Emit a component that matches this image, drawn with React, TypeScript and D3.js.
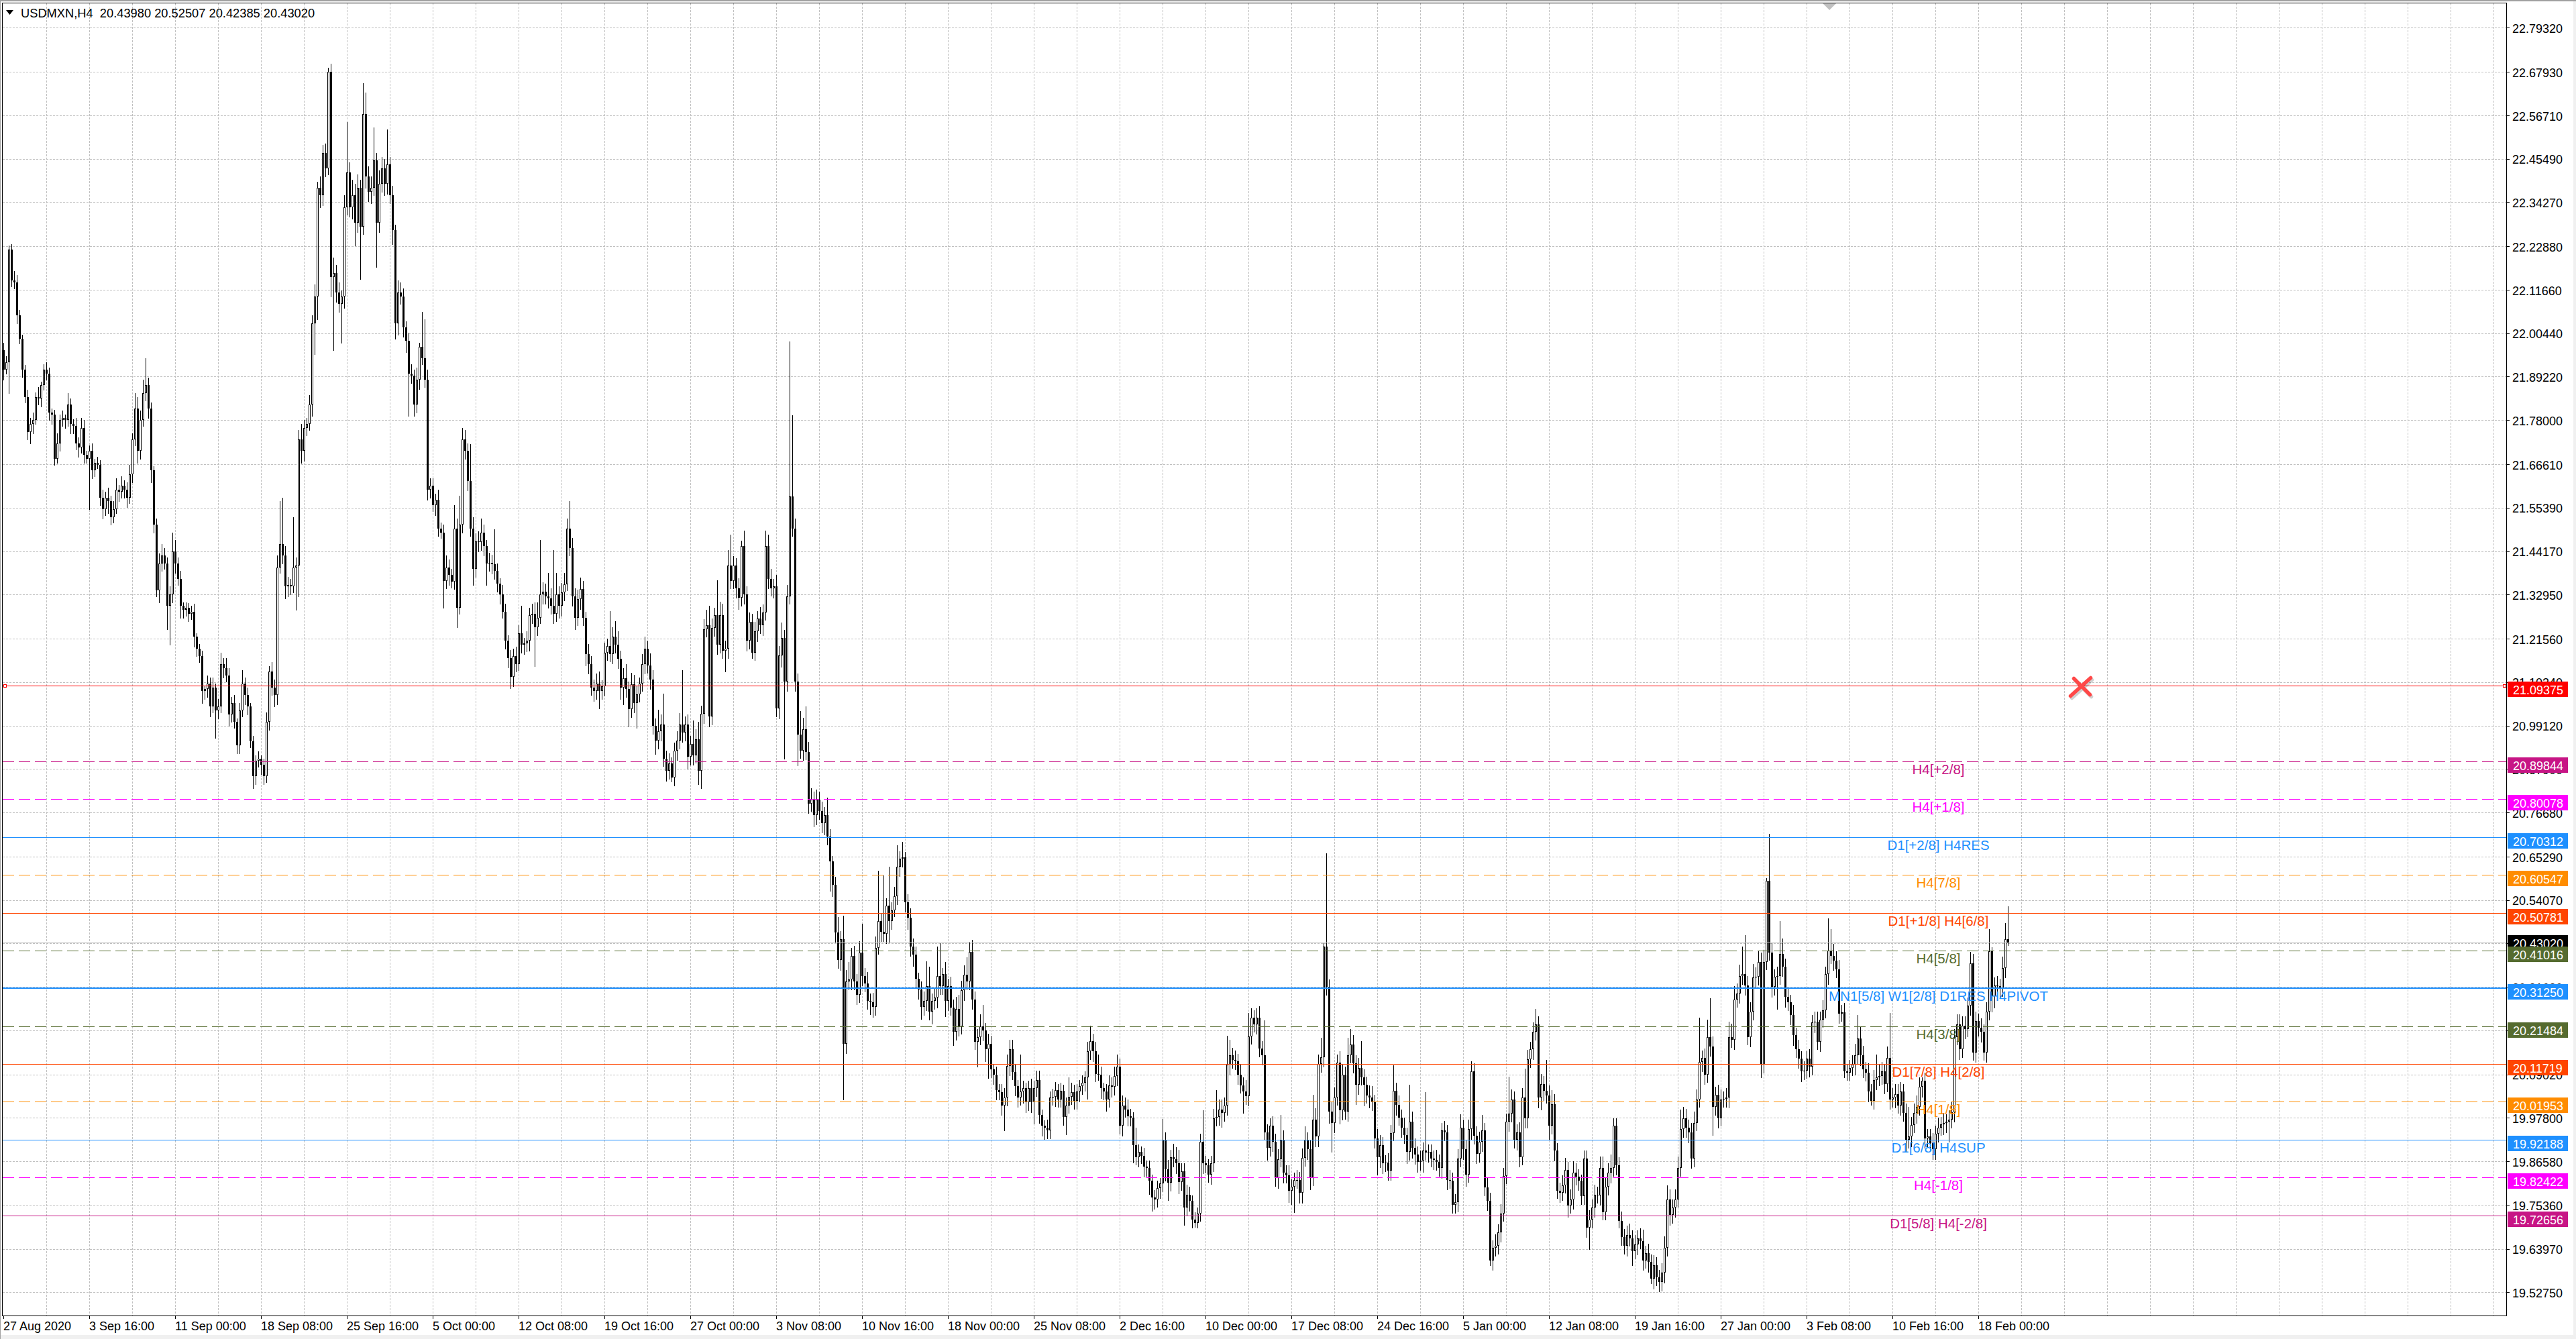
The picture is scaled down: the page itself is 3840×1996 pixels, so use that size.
import * as d3 from "d3";

// ---- data ----
const SYMBOL = "USDMXN,H4";
const LAST_OHLC = [20.4398, 20.52507, 20.42385, 20.4302];
const FIRST_OPEN = 21.96;

// closes, one row per trading day (H4 bars)
const CLOSE_AUG = [
  21.91, 21.93, 22.22, 22.14,
  22.135, 22.05, 21.99, 21.91, 21.84, 21.75,
  21.77, 21.78, 21.84, 21.835, 21.87, 21.91,
];
const CLOSE_SEP = [
  21.9, 21.8, 21.795, 21.68, 21.72, 21.78,
  21.785, 21.78, 21.82, 21.77, 21.765, 21.72,
  21.71, 21.76, 21.69, 21.68, 21.7, 21.65,
  21.67, 21.665, 21.58, 21.55, 21.58, 21.57,
  21.53, 21.55, 21.6, 21.595, 21.61, 21.6,
  21.58, 21.64, 21.73, 21.81, 21.7, 21.78,
  21.85, 21.87, 21.81, 21.65, 21.51, 21.34,
  21.41, 21.43, 21.41, 21.3, 21.33, 21.44,
  21.41, 21.37, 21.3, 21.29, 21.295, 21.28,
  21.285, 21.22, 21.19, 21.17, 21.08, 21.085,
  21.1, 21.04, 21.09, 21.03, 21.04, 21.15,
  21.14, 21.12, 21.02, 21.05, 21.0, 20.94,
  21.03, 21.1, 21.07, 21.04, 20.95, 20.86,
  20.9, 20.905, 20.89, 20.86, 21.0, 21.13,
  21.09, 21.07, 21.4, 21.46, 21.43, 21.35,
  21.355, 21.35, 21.4, 21.405, 21.73, 21.7,
  21.76, 21.77, 21.82, 22.03, 22.1, 22.38,
  22.36, 22.47, 22.43, 22.68, 22.15, 22.16,
  22.11, 22.08, 22.1, 22.33, 22.42, 22.33,
  22.36, 22.29, 22.38, 22.28, 22.57, 22.41,
  22.37, 22.38, 22.45, 22.29, 22.39, 22.43,
  22.39, 22.44, 22.36, 22.27, 22.03, 22.11,
];
const CLOSE_OCT = [
  22.1, 22.02, 21.985, 21.9, 21.895, 21.82,
  21.885, 21.97, 21.94, 21.885, 21.6, 21.61,
  21.56, 21.575, 21.5, 21.49, 21.365, 21.4,
  21.38, 21.363, 21.5, 21.295, 21.51, 21.73,
  21.7, 21.623, 21.5, 21.395, 21.467, 21.465,
  21.49, 21.455, 21.41, 21.412, 21.408, 21.39,
  21.357, 21.33, 21.285, 21.21, 21.166, 21.117,
  21.17, 21.15, 21.23, 21.2, 21.203, 21.21,
  21.276, 21.28, 21.245, 21.27, 21.33, 21.337,
  21.325, 21.32, 21.3, 21.28, 21.33, 21.3,
  21.335, 21.356, 21.5, 21.45, 21.325, 21.27,
  21.317, 21.344, 21.27, 21.176, 21.15, 21.09,
  21.08, 21.1, 21.08, 21.093, 21.18, 21.196,
  21.176, 21.22, 21.2, 21.164, 21.09, 21.114,
  21.085, 21.033, 21.097, 21.05, 21.072, 21.1,
  21.15, 21.19, 21.147, 21.11, 20.99, 20.952,
  20.977, 20.994, 20.906, 20.874, 20.894, 20.857,
  20.927, 20.952, 20.994, 20.973, 20.994, 20.91,
  20.944, 20.915, 20.956, 20.874, 21.022, 21.24,
  21.25, 21.014, 21.243, 21.276, 21.2, 21.276,
  21.185, 21.19, 21.404, 21.365, 21.404, 21.346,
  21.321, 21.454, 21.33, 21.21, 21.259, 21.18,
];
const CLOSE_NOV = [
  21.234, 21.267, 21.25, 21.284, 21.454, 21.37,
  21.346, 21.35, 21.035, 21.172, 21.218, 21.105,
  21.325, 21.583, 21.5, 21.105, 20.968, 20.927,
  20.981, 20.923, 20.79, 20.8, 20.76, 20.8,
  20.77, 20.74, 20.76, 20.704, 20.64, 20.58,
  20.457, 20.385, 20.44, 20.17, 20.33, 20.335,
  20.397, 20.33, 20.296, 20.405, 20.345, 20.325,
  20.28, 20.276, 20.264, 20.417, 20.486, 20.459,
  20.454, 20.526, 20.486, 20.514, 20.55, 20.627,
  20.647, 20.65, 20.535, 20.495, 20.421, 20.4,
  20.337, 20.31, 20.264, 20.28, 20.318, 20.252,
  20.28, 20.288, 20.345, 20.318, 20.35, 20.28,
  20.318, 20.263, 20.2, 20.26, 20.215, 20.307,
  20.347, 20.33, 20.407, 20.284, 20.175, 20.187,
  20.215, 20.203, 20.155, 20.17, 20.103, 20.09,
  20.05, 20.045, 20.01, 20.03, 20.112, 20.155,
  20.097, 20.06, 20.031, 20.046, 20.054, 20.018,
  20.054, 20.018, 20.054, 20.075, 19.985, 19.957,
  19.953, 19.945, 20.031, 20.033, 20.05, 20.026,
  20.048, 19.98, 20.01, 20.033, 20.044, 20.022,
  20.046, 20.06, 20.068, 20.083, 20.15, 20.176,
];
const CLOSE_DEC = [
  20.15, 20.092, 20.09, 20.054, 20.046, 20.026,
  20.062, 20.058, 20.086, 20.111, 19.957, 20.01,
  20.0, 19.982, 19.978, 19.907, 19.877, 19.89,
  19.88, 19.852, 19.848, 19.816, 19.772, 19.768,
  19.796, 19.808, 19.921, 19.845, 19.81, 19.876,
  19.872, 19.86, 19.812, 19.84, 19.747, 19.78,
  19.763, 19.715, 19.707, 19.731, 19.917, 19.86,
  19.856, 19.832, 19.86, 19.977, 19.98, 20.0,
  19.99, 20.01, 20.115, 20.139, 20.127, 20.124,
  20.09, 20.062, 20.046, 20.034, 20.189, 20.236,
  20.22, 20.236, 20.157, 20.14, 19.941, 19.9,
  19.957, 19.917, 19.822, 19.872, 19.92, 19.836,
  19.83, 19.79, 19.8, 19.817, 19.818, 19.784,
  19.874, 19.921, 19.897, 19.823, 19.973, 19.93,
  20.117, 20.135, 20.421, 20.316, 19.995, 19.965,
  20.031, 20.121, 19.998, 20.09, 19.995, 20.14,
  20.167, 20.119, 20.064, 20.107, 20.083, 20.064,
  20.036, 20.03, 20.018, 19.925, 19.876, 19.908,
  19.86, 19.862, 19.842, 19.939, 20.048, 20.011,
  19.979, 19.953, 19.933, 19.89, 19.969, 19.9,
  19.884, 19.864, 19.868, 19.894, 19.889, 19.89,
  19.873, 19.87, 19.864, 19.848, 19.945, 19.94,
];
const CLOSE_JAN = [
  19.818, 19.816, 19.753, 19.761, 19.873, 19.953,
  19.897, 19.832, 19.949, 20.099, 19.931, 19.885,
  19.917, 19.945, 19.798, 19.764, 19.61, 19.642,
  19.647, 19.683, 19.731, 19.828, 19.969, 19.989,
  20.026, 19.921, 19.941, 19.877, 20.03, 19.977,
  20.129, 20.155, 20.2, 20.22, 20.03, 20.066,
  20.048, 20.036, 19.957, 20.014, 19.893, 19.79,
  19.785, 19.804, 19.844, 19.752, 19.768, 19.836,
  19.826, 19.816, 19.776, 19.873, 19.695, 19.715,
  19.747, 19.78, 19.778, 19.848, 19.735, 19.8,
  19.836, 19.848, 19.957, 19.856, 19.711, 19.671,
  19.647, 19.675, 19.667, 19.634, 19.651, 19.667,
  19.66, 19.61, 19.628, 19.606, 19.562, 19.598,
  19.566, 19.554, 19.578, 19.642, 19.768, 19.727,
  19.747, 19.768, 19.848, 19.949, 19.977, 19.953,
  19.94, 19.873, 19.965, 20.026, 20.123, 20.132,
  20.09, 20.187, 20.163, 20.006, 20.038, 19.977,
  20.026, 20.027, 20.03, 20.187, 20.18, 20.284,
  20.3, 20.344, 20.35, 20.32, 20.187, 20.252,
  20.34, 20.342, 20.38, 20.115, 20.381, 20.591,
];
const CLOSE_FEB = [
  20.405, 20.316, 20.342, 20.344, 20.401, 20.369,
  20.29, 20.276, 20.244, 20.191, 20.155, 20.131,
  20.098, 20.1, 20.131, 20.11, 20.224, 20.227,
  20.175, 20.232, 20.256, 20.349, 20.41, 20.397,
  20.384, 20.361, 20.248, 20.25, 20.098, 20.095,
  20.107, 20.115, 20.139, 20.183, 20.139, 20.103,
  20.094, 20.046, 20.022, 20.076, 20.082, 20.086,
  20.098, 20.066, 20.132, 20.026, 20.03, 20.04,
  20.01, 20.046, 19.99, 19.921, 19.93, 19.96,
  19.99, 20.006, 20.058, 20.074, 19.925, 19.93,
  19.913, 19.897, 19.937, 19.953, 19.961, 19.965,
  19.968, 19.973, 19.993, 20.187, 20.22, 20.155,
  20.216, 20.208, 20.268, 20.377, 20.147, 20.228,
  20.21, 20.2, 20.147, 20.252, 20.409, 20.292,
  20.32, 20.318, 20.313, 20.365, 20.4398, 20.4302,
];

// upper / lower shadows above/below the body, in thousandths
const UP_AUG = [20, 15, 10, 15, 25, 20, 15, 10, 12, 18, 15, 20, 12, 25, 10, 15];
const DN_AUG = [25, 10, 80, 15, 15, 20, 12, 18, 15, 20, 30, 25, 10, 15, 20, 12];
const UP_SEP = [
  20, 15, 10, 12, 25, 15, 20, 10, 30, 15, 12, 20, 15, 25, 20, 10, 15, 20,
  10, 15, 12, 20, 15, 25, 15, 20, 30, 12, 25, 15, 20, 25, 15, 40, 30, 25,
  35, 70, 20, 15, 10, 15, 25, 30, 20, 15, 20, 50, 30, 15, 20, 10, 15, 12,
  15, 20, 10, 12, 15, 10, 20, 15, 25, 10, 20, 30, 15, 25, 20, 15, 20, 10,
  20, 35, 15, 20, 10, 15, 15, 20, 10, 15, 25, 15, 25, 20, 30, 110, 120, 25,
  20, 15, 130, 20, 25, 40, 20, 15, 25, 20, 30, 15, 30, 20, 25, 10, 20, 40,
  20, 25, 15, 30, 130, 25, 40, 30, 35, 20, 80, 55, 25, 30, 85, 20, 35, 30,
  25, 90, 20, 25, 15, 30,
];
const DN_SEP = [
  15, 20, 25, 15, 10, 20, 15, 20, 15, 25, 20, 15, 25, 15, 20, 10, 130, 20,
  15, 10, 20, 25, 15, 30, 20, 15, 10, 25, 15, 20, 25, 15, 20, 15, 30, 20,
  15, 20, 25, 30, 20, 15, 30, 20, 15, 60, 100, 20, 25, 15, 30, 20, 15, 20,
  15, 25, 20, 15, 30, 20, 20, 25, 15, 70, 20, 15, 25, 15, 30, 20, 15, 20,
  20, 15, 25, 20, 15, 30, 20, 15, 25, 20, 15, 20, 20, 30, 25, 15, 20, 30,
  25, 20, 15, 110, 80, 30, 25, 20, 15, 30, 80, 60, 30, 25, 20, 15, 50, 190,
  25, 20, 100, 30, 20, 25, 30, 60, 25, 135, 20, 30, 25, 30, 20, 115, 25, 20,
  30, 25, 20, 35, 40, 30,
];
const UP_OCT = [
  25, 20, 15, 20, 25, 15, 30, 10, 90, 100, 25, 20, 20, 15, 25, 15, 20, 30,
  20, 15, 60, 25, 75, 30, 25, 20, 95, 30, 20, 25, 35, 20, 15, 25, 20, 90,
  20, 15, 25, 20, 15, 20, 20, 25, 20, 70, 15, 25, 20, 25, 30, 40, 140, 25,
  20, 60, 25, 145, 55, 20, 25, 30, 25, 70, 25, 20, 25, 30, 20, 15, 25, 20,
  20, 25, 30, 15, 25, 20, 90, 25, 40, 35, 20, 25, 35, 20, 30, 25, 20, 15,
  25, 30, 20, 30, 25, 20, 55, 25, 80, 20, 25, 15, 20, 25, 30, 140, 20, 25,
  20, 60, 25, 45, 20, 25, 40, 50, 25, 20, 90, 35, 30, 20, 40, 80, 25, 20,
  25, 15, 40, 20, 25, 20,
];
const DN_OCT = [
  20, 25, 30, 110, 20, 30, 20, 25, 15, 20, 25, 20, 15, 25, 20, 15, 70, 20,
  25, 15, 20, 50, 15, 20, 20, 25, 20, 40, 20, 25, 20, 25, 55, 20, 25, 20,
  20, 25, 15, 20, 25, 30, 25, 20, 15, 20, 25, 20, 25, 20, 100, 20, 15, 25,
  20, 25, 20, 25, 20, 30, 25, 20, 15, 20, 25, 30, 20, 25, 20, 30, 25, 20,
  25, 20, 45, 20, 25, 20, 20, 25, 20, 25, 30, 45, 20, 45, 20, 25, 65, 20,
  20, 25, 20, 25, 20, 35, 20, 25, 20, 25, 20, 10, 20, 25, 20, 25, 20, 30,
  20, 25, 20, 35, 45, 25, 20, 25, 20, 20, 25, 20, 20, 55, 25, 20, 20, 25,
  30, 20, 25, 25, 20, 15,
];
const UP_NOV = [
  25, 20, 30, 20, 40, 30, 25, 20, 30, 25, 40, 20, 30, 400, 210, 25, 20, 60,
  30, 60, 25, 30, 20, 25, 20, 25, 20, 45, 20, 15, 20, 40, 20, 60, 30, 45,
  20, 25, 20, 30, 75, 20, 30, 20, 25, 30, 130, 20, 145, 20, 100, 20, 25, 55,
  20, 40, 15, 20, 25, 20, 20, 15, 20, 25, 65, 50, 20, 25, 75, 85, 15, 30,
  20, 25, 20, 30, 35, 25, 25, 45, 25, 30, 20, 20, 30, 55, 20, 25, 20, 15,
  20, 15, 20, 25, 30, 25, 25, 20, 15, 95, 20, 15, 20, 25, 20, 25, 25, 15,
  15, 20, 15, 20, 20, 15, 20, 15, 20, 50, 25, 20, 20, 15, 20, 15, 25, 40,
];
const DN_NOV = [
  20, 25, 20, 25, 20, 25, 20, 25, 20, 25, 30, 200, 25, 20, 20, 25, 80, 20,
  25, 20, 25, 20, 30, 25, 20, 25, 30, 20, 75, 30, 25, 20, 25, 145, 25, 20,
  25, 20, 25, 20, 25, 20, 20, 30, 25, 20, 15, 25, 20, 25, 55, 20, 15, 20,
  25, 20, 25, 30, 25, 30, 20, 25, 30, 20, 25, 20, 30, 20, 25, 20, 20, 40,
  25, 20, 35, 20, 25, 20, 25, 20, 20, 25, 20, 65, 20, 25, 30, 75, 20, 25,
  25, 20, 25, 65, 20, 25, 20, 25, 25, 20, 30, 25, 20, 25, 55, 20, 20, 25,
  30, 20, 20, 20, 25, 20, 20, 20, 45, 20, 20, 20, 20, 25, 20, 20, 55, 20,
];
const UP_DEC = [
  20, 25, 50, 20, 15, 20, 25, 20, 25, 30, 20, 25, 20, 25, 20, 15, 45, 20,
  15, 20, 15, 20, 15, 20, 20, 15, 55, 20, 25, 20, 35, 30, 35, 20, 20, 25,
  20, 15, 20, 15, 20, 80, 20, 15, 20, 25, 70, 25, 25, 20, 75, 40, 20, 25,
  20, 25, 20, 30, 60, 25, 20, 25, 30, 20, 90, 20, 20, 25, 20, 25, 65, 25,
  20, 25, 20, 20, 25, 20, 25, 35, 20, 25, 65, 30, 25, 50, 10, 240, 20, 25,
  25, 20, 30, 25, 20, 45, 40, 25, 20, 25, 70, 20, 20, 25, 30, 20, 25, 25,
  20, 20, 25, 20, 65, 20, 25, 20, 25, 20, 95, 25, 25, 20, 25, 20, 150, 20,
  20, 20, 25, 20, 20, 25,
];
const DN_DEC = [
  25, 20, 15, 25, 20, 30, 20, 25, 20, 25, 20, 25, 20, 25, 20, 45, 20, 25,
  20, 25, 20, 35, 35, 25, 20, 25, 20, 30, 45, 20, 20, 25, 30, 20, 45, 20,
  25, 20, 10, 12, 20, 25, 20, 20, 25, 20, 20, 20, 35, 20, 25, 25, 20, 20,
  25, 20, 55, 20, 25, 20, 20, 25, 20, 25, 20, 30, 20, 25, 20, 25, 20, 25,
  20, 30, 35, 65, 20, 25, 25, 20, 25, 30, 20, 25, 25, 20, 25, 20, 30, 75,
  25, 20, 35, 25, 20, 25, 20, 25, 50, 25, 20, 55, 20, 25, 20, 25, 45, 25,
  25, 20, 25, 25, 20, 25, 20, 25, 20, 30, 20, 25, 25, 25, 20, 30, 20, 25,
  20, 25, 20, 20, 25, 20,
];
const UP_JAN = [
  20, 25, 20, 20, 25, 35, 20, 25, 25, 25, 20, 25, 25, 40, 20, 25, 20, 20,
  30, 20, 25, 20, 20, 95, 25, 20, 20, 25, 25, 75, 25, 20, 25, 40, 20, 25,
  20, 80, 25, 35, 25, 20, 20, 25, 30, 20, 25, 30, 25, 20, 15, 20, 20, 25,
  20, 25, 20, 30, 30, 25, 25, 35, 20, 20, 20, 25, 20, 25, 30, 20, 25, 20,
  25, 30, 20, 25, 20, 25, 20, 20, 25, 30, 35, 25, 20, 25, 30, 50, 30, 25,
  20, 25, 30, 25, 114, 20, 25, 45, 100, 25, 20, 25, 25, 20, 25, 40, 35, 35,
  25, 30, 70, 100, 25, 25, 35, 25, 30, 25, 30, 6,
];
const DN_JAN = [
  25, 20, 20, 20, 25, 20, 25, 30, 20, 25, 20, 25, 20, 25, 20, 25, 12, 25,
  20, 20, 25, 20, 20, 25, 20, 20, 25, 25, 20, 25, 25, 20, 25, 20, 25, 30,
  25, 20, 35, 20, 25, 20, 25, 20, 20, 30, 20, 25, 20, 25, 20, 20, 24, 56,
  20, 25, 20, 25, 20, 20, 20, 25, 20, 25, 16, 21, 20, 25, 20, 36, 20, 25,
  20, 25, 20, 25, 12, 25, 20, 24, 22, 25, 20, 25, 20, 25, 20, 20, 20, 25,
  25, 25, 20, 20, 20, 25, 25, 20, 25, 73, 20, 25, 20, 20, 20, 25, 20, 25,
  20, 25, 20, 25, 20, 25, 20, 25, 20, 33, 20, 20,
];
const UP_FEB = [
  120, 25, 20, 25, 85, 40, 20, 25, 20, 25, 20, 25, 20, 25, 20, 25, 20, 25,
  25, 20, 25, 20, 84, 56, 30, 25, 25, 20, 25, 20, 20, 25, 30, 60, 30, 25,
  20, 25, 20, 25, 60, 30, 25, 20, 30, 117, 25, 25, 25, 25, 20, 25, 76, 20,
  25, 30, 25, 8, 20, 20, 20, 25, 20, 25, 20, 25, 20, 25, 25, 20, 25, 25,
  25, 25, 20, 30, 25, 25, 20, 25, 20, 25, 57, 10, 20, 25, 20, 30, 42, 85,
];
const DN_FEB = [
  20, 25, 20, 82, 20, 25, 25, 20, 25, 25, 20, 25, 25, 20, 20, 25, 20, 25,
  20, 25, 20, 20, 25, 20, 25, 20, 25, 20, 16, 20, 20, 20, 25, 20, 25, 20,
  20, 25, 11, 20, 25, 20, 20, 25, 20, 25, 20, 25, 20, 25, 20, 30, 20, 25,
  20, 25, 20, 25, 25, 20, 20, 25, 25, 20, 20, 25, 25, 51, 20, 25, 20, 25,
  20, 25, 20, 25, 20, 25, 20, 25, 20, 25, 20, 40, 30, 20, 25, 20, 25, 7,
];

const PRICE_TICKS = [
  22.7932, 22.6793, 22.5671, 22.4549, 22.3427, 22.2288, 22.1166, 22.0044,
  21.8922, 21.78, 21.6661, 21.5539, 21.4417, 21.3295, 21.2156, 21.1034,
  20.9912, 20.879, 20.7668, 20.6529, 20.5407, 20.4285, 20.3163, 20.2041,
  20.0902, 19.978, 19.8658, 19.7536, 19.6397, 19.5275,
];
const TIME_LABELS = [
  "27 Aug 2020", "3 Sep 16:00", "11 Sep 00:00", "18 Sep 08:00", "25 Sep 16:00",
  "5 Oct 00:00", "12 Oct 08:00", "19 Oct 16:00", "27 Oct 00:00", "3 Nov 08:00",
  "10 Nov 16:00", "18 Nov 00:00", "25 Nov 08:00", "2 Dec 16:00", "10 Dec 00:00",
  "17 Dec 08:00", "24 Dec 16:00", "5 Jan 00:00", "12 Jan 08:00", "19 Jan 16:00",
  "27 Jan 00:00", "3 Feb 08:00", "10 Feb 16:00", "18 Feb 00:00",
];

const ALERT_PRICE = 21.09375;
const LEVEL_PRICES = [
  20.89844, 20.80078, 20.70312, 20.60547, 20.50781, 20.41016, 20.3125,
  20.21484, 20.11719, 20.01953, 19.92188, 19.82422, 19.72656,
];
const LEVEL_NAMES = [
  "H4[+2/8]", "H4[+1/8]", "D1[+2/8] H4RES", "H4[7/8]", "D1[+1/8] H4[6/8]",
  "H4[5/8]", "MN1[5/8] W1[2/8] D1RES H4PIVOT", "H4[3/8]", "D1[7/8] H4[2/8]",
  "H4[1/8]", "D1[6/8] H4SUP", "H4[-1/8]", "D1[5/8] H4[-2/8]",
];

// ---- styles ----
const LEVEL_COLORS = [
  "#C71585", "#FF00FF", "#1E90FF", "#FF8C00", "#FF4500", "#556B2F", "#1E90FF",
  "#556B2F", "#FF4500", "#FF8C00", "#1E90FF", "#FF00FF", "#C71585",
];
const LEVEL_DASHED = [true, true, false, true, false, true, false, true, false, true, false, true, false];
const LEVEL_WIDTH = [1, 1, 1, 1, 1, 1, 2, 1, 1, 1, 1, 1, 1];

const W = 3840;
const H = 1996;
const FRAME = { left: 3.5, top: 4.5, right: 3736.5, bottom: 1961.5 };
const BAR_STEP = 4;
const SLOTS = 932; // bar slots visible across the window
const FONT = "'Liberation Sans', Arial, sans-serif";
const GRID = "#C0C0C0";

type Bar = { i: number; o: number; h: number; l: number; c: number };

function buildBars(): Bar[] {
  const closes = [CLOSE_AUG, CLOSE_SEP, CLOSE_OCT, CLOSE_NOV, CLOSE_DEC, CLOSE_JAN, CLOSE_FEB].flat();
  const ups = [UP_AUG, UP_SEP, UP_OCT, UP_NOV, UP_DEC, UP_JAN, UP_FEB].flat();
  const dns = [DN_AUG, DN_SEP, DN_OCT, DN_NOV, DN_DEC, DN_JAN, DN_FEB].flat();
  let prev = FIRST_OPEN;
  const bars = closes.map((c, i) => {
    const o = prev;
    prev = c;
    return {
      i,
      o,
      c,
      h: Math.max(o, c) + (ups[i] ?? 20) / 1000,
      l: Math.min(o, c) - (dns[i] ?? 20) / 1000,
    };
  });
  const last = bars[bars.length - 1];
  [last.o, last.h, last.l, last.c] = LAST_OHLC;
  return bars;
}

export default function App() {
  const bars = buildBars();
  const x = d3.scaleLinear().domain([0, SLOTS]).range([5.5, 5.5 + BAR_STEP * SLOTS]);
  const y = d3
    .scaleLinear()
    .domain([PRICE_TICKS[PRICE_TICKS.length - 1], PRICE_TICKS[0]])
    .range([1926.4, 41.4]);
  const fmt = d3.format(".5f");
  const py = (p: number) => Math.round(y(p)) + 0.5;

  const vGrid = d3.range(16, SLOTS, 16).filter((b) => x(b) < FRAME.right);

  // level price tags sit a little below their line; the bid tag is centred on it
  const boxes = [
    { p: ALERT_PRICE, color: "#FF0000", dy: -6 },
    ...LEVEL_PRICES.slice(0, 5).map((p, k) => ({ p, color: LEVEL_COLORS[k], dy: -6 })),
    { p: LAST_OHLC[3], color: "#000000", dy: -11 },
    ...LEVEL_PRICES.slice(5).map((p, k) => ({ p, color: LEVEL_COLORS[k + 5], dy: -6 })),
  ];
  const labelX = x(721);
  const alertY = py(ALERT_PRICE);
  const crossX = x(774);

  return (
    <svg
      width={W}
      height={H}
      viewBox={`0 0 ${W} ${H}`}
      style={{ position: "absolute", left: 0, top: 0, display: "block" }}
      fontFamily={FONT}
    >
      {/* window chrome */}
      <rect x={0} y={0} width={W} height={H} fill="#F0F0F0" />
      <rect x={1} y={2} width={3835} height={1988} fill="#FFFFFF" />
      <rect x={0} y={0} width={W} height={2} fill="#A0A0A0" />
      <rect x={0} y={0} width={1} height={H} fill="#A0A0A0" />

      {/* grid */}
      <g stroke={GRID} strokeWidth={1} strokeDasharray="3,2" shapeRendering="crispEdges">
        {PRICE_TICKS.map((t) => (
          <line key={t} x1={FRAME.left} x2={FRAME.right} y1={py(t)} y2={py(t)} />
        ))}
        {vGrid.map((b) => (
          <line key={b} x1={x(b)} x2={x(b)} y1={FRAME.top} y2={FRAME.bottom} />
        ))}
      </g>

      {/* chart shift marker */}
      <path
        d={`M${x(680.4) - 10},5 L${x(680.4) + 10},5 L${x(680.4)},15 Z`}
        fill="#C0C0C0"
      />

      {/* candles */}
      <g shapeRendering="crispEdges">
        {bars.map((b) => {
          const cx = x(b.i);
          const top = Math.round(y(Math.max(b.o, b.c)));
          const bot = Math.round(y(Math.min(b.o, b.c)));
          const bull = b.c > b.o;
          const body =
            bull && bot - top >= 2 ? (
              <rect x={cx - 1} y={top + 0.5} width={2} height={bot - top - 1} fill="#FFFFFF" stroke="#000" strokeWidth={1} />
            ) : (
              <rect x={cx - 1.5} y={top} width={3} height={Math.max(1, bot - top)} fill="#000" />
            );
          return (
            <g key={b.i}>
              <line x1={cx} x2={cx} y1={Math.round(y(b.h))} y2={Math.round(y(b.l)) + 1} stroke="#000" strokeWidth={1} />
              {body}
            </g>
          );
        })}
      </g>

      {/* bid line */}
      <line x1={FRAME.left} x2={FRAME.right} y1={py(LAST_OHLC[3])} y2={py(LAST_OHLC[3])} stroke="#C0C0C0" strokeWidth={1} shapeRendering="crispEdges" />

      {/* level lines */}
      <g shapeRendering="crispEdges">
        {LEVEL_PRICES.map((p, k) => (
          <line
            key={p}
            x1={FRAME.left}
            x2={FRAME.right}
            y1={LEVEL_WIDTH[k] === 2 ? Math.round(y(p)) : py(p)}
            y2={LEVEL_WIDTH[k] === 2 ? Math.round(y(p)) : py(p)}
            stroke={LEVEL_COLORS[k]}
            strokeWidth={LEVEL_WIDTH[k]}
            strokeDasharray={LEVEL_DASHED[k] ? "17,7" : undefined}
          />
        ))}
      </g>

      {/* alert line with end handles */}
      <line x1={FRAME.left} x2={FRAME.right} y1={alertY} y2={alertY} stroke="#FF0000" strokeWidth={1} shapeRendering="crispEdges" />
      <rect x={5.5} y={alertY - 2.5} width={4} height={4} fill="#FFF" stroke="#FF0000" strokeWidth={1} shapeRendering="crispEdges" />
      <rect x={FRAME.right - 5.5} y={alertY - 2.5} width={4} height={4} fill="#FFF" stroke="#FF0000" strokeWidth={1} shapeRendering="crispEdges" />

      {/* level labels */}
      <g fontSize={20.5} textAnchor="middle">
        {LEVEL_PRICES.map((p, k) => (
          <text key={p} x={labelX} y={y(p) + 19} fill={LEVEL_COLORS[k]}>
            {LEVEL_NAMES[k]}
          </text>
        ))}
      </g>

      {/* close cross */}
      <g strokeLinecap="round" strokeWidth={5.5} fill="none">
        <g stroke="#000" opacity={0.18} transform="translate(2,3)">
          <line x1={crossX - 10} y1={alertY - 11} x2={crossX + 14} y2={alertY + 13} />
          <line x1={crossX + 15} y1={alertY - 12} x2={crossX - 15} y2={alertY + 15} />
        </g>
        <g stroke="#FF4848">
          <line x1={crossX - 10} y1={alertY - 11} x2={crossX + 14} y2={alertY + 13} />
          <line x1={crossX + 15} y1={alertY - 12} x2={crossX - 15} y2={alertY + 15} />
        </g>
      </g>

      {/* frame */}
      <rect
        x={FRAME.left}
        y={FRAME.top}
        width={FRAME.right - FRAME.left}
        height={FRAME.bottom - FRAME.top}
        fill="none"
        stroke="#000"
        strokeWidth={1}
        shapeRendering="crispEdges"
      />

      {/* price axis */}
      <g fontSize={18} fill="#000">
        {PRICE_TICKS.map((t) => (
          <g key={t}>
            <line x1={FRAME.right} x2={FRAME.right + 4} y1={py(t)} y2={py(t)} stroke="#000" shapeRendering="crispEdges" />
            <text x={3745} y={y(t) + 7.7}>
              {fmt(t)}
            </text>
          </g>
        ))}
      </g>
      <g fontSize={18}>
        {boxes.map((bx) => (
          <g key={bx.p}>
            <rect x={3738} y={Math.round(y(bx.p)) + bx.dy} width={90} height={23} fill={bx.color} />
            <text x={3746} y={y(bx.p) + bx.dy + 19} fill="#FFFFFF">
              {fmt(bx.p)}
            </text>
          </g>
        ))}
      </g>

      {/* time axis */}
      <g fontSize={18} fill="#000">
        {TIME_LABELS.map((t, k) => {
          const tx = x(k * 32) - 0.5;
          return (
            <g key={t}>
              <line x1={tx + 0.5} x2={tx + 0.5} y1={FRAME.bottom} y2={FRAME.bottom + 4} stroke="#000" shapeRendering="crispEdges" />
              <text x={tx} y={1983}>
                {t}
              </text>
            </g>
          );
        })}
      </g>

      {/* title */}
      <path d="M9,15 L20,15 L14.5,22 Z" fill="#000" />
      <text x={31} y={26} fontSize={18.3} fill="#000" style={{ whiteSpace: "pre" }}>
        {`${SYMBOL}  ${LAST_OHLC.map((v) => fmt(v)).join(" ")}`}
      </text>
    </svg>
  );
}
